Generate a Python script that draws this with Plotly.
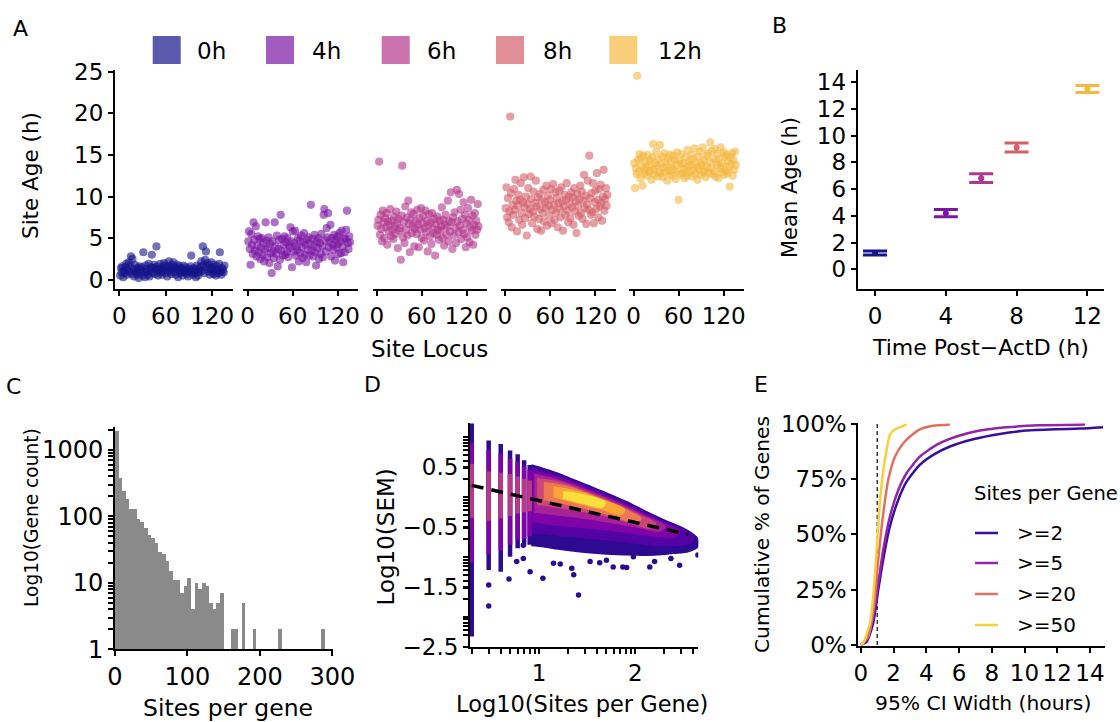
import plotly.graph_objects as go

W, H = 1120, 722
def px(x): return x / W
def py(y): return 1 - y / H

FONT = "DejaVu Sans"
TICKSIZE = 23

# ---------------- Panel A: site age by locus ----------------
timepoints = ["0h", "4h", "6h", "8h", "12h"]
time_colors = ["#14148a", "#7b16a3", "#b3378d", "#d4606a", "#f5b942"]
loci = list(range(1, 137))

age_0h = [0.5, 1.4, 0.9, 1.6, 0.3, 1.1, 0.8, 1.5, 1.9, 0.6, 1.2, 2.1, 1.0, 1.7, 2.8, 0.7, 2.5,
          1.3, 0.4, 1.8, 0.9, 1.1, 0.6, 1.4, 0.2, 1.6, 0.8, 1.2, 1.5, 0.5, 3.3, 1.0, 0.3, 1.7,
          0.9, 1.3, 0.6, 1.9, 0.4, 1.1, 1.5, 3.0, 0.8, 1.4, 1.8, 0.7, 1.2, 4.0, 1.6, 0.5, 1.0,
          1.3, 1.9, 0.9, 0.6, 1.5, 1.1, 2.0, 1.7, 0.8, 1.3, 0.4, 1.6, 2.2, 1.0, 1.4, 0.7, 1.8,
          1.2, 2.1, 0.9, 1.5, 0.6, 1.3, 1.8, 0.3, 1.1, 1.6, 0.8, 1.4, 1.0, 0.5, 1.7, 1.2, 0.9,
          1.5, 0.7, 1.1, 0.4, 1.3, 0.9, 1.6, 2.9, 1.0, 0.6, 1.4, 0.8, 1.2, 0.3, 1.7, 1.0, 0.5,
          1.3, 0.9, 1.6, 2.2, 1.1, 4.0, 1.8, 0.8, 2.4, 3.4, 1.5, 2.0, 1.0, 1.7, 0.6, 1.3, 2.1,
          0.9, 1.4, 0.7, 1.8, 1.1, 0.5, 1.6, 1.2, 0.8, 1.9, 3.3, 1.0, 0.6, 1.4, 1.2, 0.9, 1.7]
age_4h = [4.6, 5.8, 3.7, 1.8, 5.5, 4.2, 3.1, 6.9, 4.8, 3.5, 6.4, 2.8, 4.1, 5.2, 3.3, 4.9, 2.5,
          3.9, 5.0, 3.0, 4.4, 2.2, 3.6, 6.9, 4.7, 2.7, 3.8, 5.1, 2.0, 4.3, 3.2, 0.8, 4.6, 3.4,
          2.6, 6.9, 4.0, 3.1, 5.3, 1.6, 3.7, 4.8, 2.4, 7.8, 3.5, 4.9, 2.9, 4.2, 5.2, 3.0, 4.5,
          3.3, 5.0, 2.7, 4.1, 3.8, 6.3, 4.6, 1.5, 5.8, 3.4, 4.4, 5.9, 2.9, 4.0, 3.6, 5.0, 2.2,
          4.7, 3.2, 5.3, 3.9, 2.6, 4.5, 5.6, 3.0, 4.2, 2.1, 4.8, 3.6, 5.1, 2.9, 4.3, 9.0, 3.5,
          4.9, 2.8, 4.1, 5.4, 3.3, 1.7, 4.6, 3.8, 5.0, 2.5, 4.4, 3.1, 5.5, 4.0, 2.7, 7.8, 8.5,
          4.7, 3.4, 6.2, 5.1, 8.0, 3.9, 4.5, 6.6, 2.8, 5.0, 4.2, 3.6, 5.4, 2.3, 4.8, 3.9, 5.2,
          4.3, 3.1, 5.6, 4.6, 3.2, 5.9, 4.0, 2.1, 5.0, 3.3, 4.9, 6.0, 8.3, 4.4, 3.7, 5.2, 4.5]
age_6h = [6.5, 7.2, 14.2, 5.4, 7.8, 6.1, 4.6, 8.3, 6.9, 5.0, 7.4, 6.3, 8.0, 4.2, 7.0, 5.8, 6.6,
          8.5, 5.2, 7.1, 6.0, 4.9, 7.6, 6.4, 5.5, 8.2, 6.8, 3.8, 7.3, 5.9, 6.2, 2.4, 7.7, 13.7,
          5.1, 6.9, 4.4, 8.8, 6.0, 7.5, 5.3, 9.5, 6.7, 3.3, 7.2, 8.1, 5.6, 6.4, 7.9, 4.0, 6.1,
          7.0, 5.5, 8.4, 6.6, 3.9, 7.4, 6.0, 8.6, 5.0, 6.8, 7.7, 4.7, 6.2, 8.3, 5.7, 7.1, 3.4,
          6.5, 7.9, 5.2, 6.9, 4.3, 8.0, 6.1, 5.6, 7.3, 2.9, 6.7, 5.4, 7.6, 6.0, 4.8, 7.1, 5.9,
          6.4, 8.7, 5.0, 7.2, 4.1, 6.6, 7.8, 5.4, 6.3, 9.5, 4.6, 7.0, 5.8, 10.5, 6.9, 3.7, 7.5,
          5.3, 8.1, 6.2, 4.4, 10.8, 7.0, 5.7, 10.3, 6.5, 8.4, 4.9, 7.3, 6.0, 9.3, 5.5, 7.8, 3.9,
          6.8, 5.1, 8.6, 7.2, 4.5, 6.3, 9.6, 5.9, 7.7, 4.2, 6.6, 8.0, 5.4, 7.1, 6.0, 9.1, 6.4]
age_8h = [8.6, 11.1, 7.5, 9.8, 6.9, 8.2, 19.6, 10.4, 6.3, 9.0, 7.8, 10.9, 8.4, 12.0, 9.5, 5.8, 8.9,
          10.2, 7.2, 9.6, 11.6, 8.0, 6.6, 9.3, 12.3, 8.7, 7.4, 10.0, 5.3, 9.1, 11.0, 7.9, 8.5, 12.4,
          9.7, 6.8, 8.2, 10.6, 7.6, 9.2, 11.9, 8.8, 6.1, 9.9, 7.3, 10.3, 8.5, 5.9, 9.5, 8.0, 10.8,
          7.0, 9.3, 8.6, 11.3, 6.5, 10.1, 8.9, 7.7, 9.6, 10.9, 6.8, 8.4, 11.5, 9.0, 7.2, 10.5, 8.1,
          9.8, 6.3, 9.2, 10.7, 8.5, 7.5, 11.1, 9.4, 5.9, 8.8, 10.2, 7.8, 9.6, 11.6, 8.3, 6.9, 10.0,
          9.1, 7.4, 10.5, 8.7, 9.9, 6.6, 11.0, 8.2, 9.4, 5.6, 10.3, 8.9, 7.7, 9.7, 11.3, 8.0, 10.6,
          7.3, 9.5, 12.6, 8.6, 10.1, 6.7, 9.0, 11.9, 8.4, 14.9, 9.8, 7.8, 10.4, 8.1, 11.6, 6.8, 9.3,
          10.7, 8.5, 12.8, 9.6, 7.5, 10.9, 8.8, 11.4, 9.2, 7.1, 10.0, 13.2, 8.3, 9.7, 11.0, 8.9, 10.2]
age_12h = [14.0, 11.0, 13.4, 12.7, 24.5, 14.4, 13.0, 15.1, 12.2, 14.6, 13.6, 11.3, 14.9, 13.2, 12.8, 14.1, 13.5,
           12.5, 15.0, 13.8, 12.9, 14.3, 13.1, 12.0, 14.7, 16.3, 13.3, 12.6, 14.0, 15.4, 13.7, 12.4, 14.5, 13.0,
           16.2, 12.8, 13.9, 14.8, 12.3, 13.5, 15.2, 12.9, 14.2, 13.6, 11.9, 14.6, 13.1, 15.0, 12.7, 14.1, 13.4,
           12.5, 14.9, 13.2, 14.4, 12.1, 13.8, 15.3, 13.0, 9.6, 14.3, 12.6, 13.9, 15.1, 12.8, 14.0, 13.3, 12.2,
           14.7, 13.1, 12.5, 15.6, 13.6, 14.2, 12.9, 13.8, 15.0, 12.4, 14.5, 13.2, 15.8, 12.7, 14.1, 13.5, 12.0,
           14.8, 13.3, 15.4, 12.6, 14.0, 13.7, 15.9, 12.9, 14.4, 13.1, 12.3, 14.9, 13.6, 15.2, 12.8, 14.2, 16.5,
           13.4, 15.5, 12.7, 14.6, 13.0, 15.7, 12.4, 14.1, 13.8, 15.1, 12.2, 14.5, 13.3, 15.9, 12.9, 14.0, 13.6,
           15.3, 12.6, 14.8, 13.1, 15.0, 12.8, 14.3, 13.5, 11.2, 14.7, 13.9, 15.2, 12.5, 14.4, 13.2, 15.4, 13.8]
ages = [age_0h, age_4h, age_6h, age_8h, age_12h]

# ---------------- Panel B: mean age ----------------
b_time = [0, 4, 6, 8, 12]
b_mean = [1.22, 4.19, 6.81, 9.10, 13.48]
b_err = [0.15, 0.27, 0.33, 0.34, 0.27]

# ---------------- Panel C: histogram of sites per gene ----------------
c_sites = [2.5, 7.5, 12.5, 17.5, 22.5, 27.5, 32.5, 37.5, 42.5, 47.5,
           52.5, 57.5, 62.5, 67.5, 72.5, 77.5, 82.5, 87.5, 92.5, 97.5,
           102.5, 107.5, 112.5, 117.5, 122.5, 127.5, 132.5, 137.5, 142.5, 147.5,
           162.5, 167.5, 177.5, 192.5, 227.5, 287.5]
c_count = [1950, 376, 243, 182, 130, 130, 91, 81, 67, 53,
           47, 40, 29, 27, 21, 15, 11, 11, 7, 9,
           12, 4, 10, 8, 10, 9, 5, 4, 5, 7,
           2, 2, 5, 2, 2, 2]

# ---------------- Panel D: SEM vs sites per gene (density layers) ----------------
d_level_colors = ["#2d0a91", "#5302a3", "#7e03a8", "#a72197", "#cc4778", "#ed7953", "#fca636", "#f7e03c"]
d_level_x = [
    [0.92, 1.0, 1.1, 1.3, 1.5, 1.7, 1.9, 2.1, 2.3, 2.5, 2.6, 2.65, 2.65, 2.55, 2.4, 2.2, 2.0, 1.8, 1.6, 1.4, 1.2, 1.05, 0.92],
    [0.92, 1.1, 1.3, 1.5, 1.7, 1.9, 2.1, 2.3, 2.5, 2.6, 2.55, 2.4, 2.2, 2.0, 1.8, 1.6, 1.4, 1.2, 1.05, 0.92],
    [0.93, 1.1, 1.3, 1.5, 1.7, 1.9, 2.1, 2.3, 2.45, 2.4, 2.2, 2.0, 1.8, 1.6, 1.4, 1.2, 1.05, 0.93],
    [0.95, 1.1, 1.3, 1.5, 1.7, 1.9, 2.1, 2.3, 2.25, 2.05, 1.85, 1.65, 1.45, 1.25, 1.1, 0.95],
    [0.98, 1.15, 1.3, 1.5, 1.7, 1.9, 2.05, 2.2, 2.15, 1.95, 1.75, 1.55, 1.35, 1.15, 0.98],
    [1.05, 1.2, 1.35, 1.5, 1.7, 1.9, 2.05, 2.0, 1.8, 1.6, 1.4, 1.2, 1.05],
    [1.15, 1.3, 1.45, 1.6, 1.75, 1.88, 1.85, 1.65, 1.45, 1.3, 1.15],
    [1.25, 1.4, 1.55, 1.68, 1.65, 1.5, 1.35, 1.25],
]
d_level_y = [
    [0.52, 0.48, 0.43, 0.31, 0.18, 0.05, -0.09, -0.25, -0.40, -0.54, -0.64, -0.72, -0.82, -0.90, -0.93, -0.96, -0.96, -0.95, -0.93, -0.90, -0.86, -0.82, -0.80],
    [0.47, 0.39, 0.28, 0.15, 0.02, -0.12, -0.28, -0.43, -0.57, -0.67, -0.78, -0.80, -0.80, -0.76, -0.72, -0.69, -0.66, -0.63, -0.60, -0.58],
    [0.42, 0.35, 0.25, 0.12, -0.01, -0.15, -0.31, -0.46, -0.57, -0.66, -0.64, -0.60, -0.56, -0.52, -0.49, -0.46, -0.43, -0.40],
    [0.36, 0.31, 0.21, 0.09, -0.04, -0.18, -0.34, -0.49, -0.56, -0.50, -0.44, -0.39, -0.34, -0.30, -0.27, -0.24],
    [0.29, 0.25, 0.18, 0.06, -0.07, -0.21, -0.33, -0.45, -0.51, -0.42, -0.33, -0.26, -0.20, -0.15, -0.11],
    [0.22, 0.19, 0.13, 0.04, -0.09, -0.23, -0.36, -0.42, -0.32, -0.23, -0.15, -0.08, -0.03],
    [0.15, 0.11, 0.05, -0.03, -0.12, -0.22, -0.29, -0.19, -0.11, -0.05, 0.02],
    [0.07, 0.04, -0.02, -0.10, -0.16, -0.11, -0.05, -0.01],
]
# discrete columns for genes with few sites (log10 of 2..8 sites)
d_col_x = [0.301, 0.477, 0.602, 0.699, 0.778, 0.845, 0.903]
d_col_min = [-2.33, -1.22, -1.25, -1.00, -0.86, -0.80, -0.80]
d_col_max = [1.22, 0.94, 0.88, 0.77, 0.71, 0.61, 0.53]
d_col_purple_lo = [-1.10, -0.95, -0.90, -0.80, -0.72, -0.70, -0.66]
d_col_purple_hi = [0.90, 0.78, 0.72, 0.64, 0.58, 0.50, 0.45]
d_col_mag_lo = [-0.35, -0.40, -0.36, -0.32, -0.28, -0.26, -0.24]
d_col_mag_hi = [0.55, 0.42, 0.40, 0.38, 0.34, 0.30, 0.27]
d_out_x = [0.477, 0.477, 0.688, 0.837, 0.768, 0.837, 0.907, 1.04, 1.15, 1.22, 1.34, 1.36, 1.41,
           1.53, 1.63, 1.70, 1.77, 1.87, 1.91, 1.98, 2.06, 2.15, 2.20, 2.37, 2.46, 2.65, 2.60]
d_out_y = [-1.47, -1.82, -1.37, -0.81, -1.08, -1.03, -1.25, -1.36, -1.11, -1.12, -1.19, -1.30, -1.64,
           -1.08, -1.10, -1.06, -1.17, -1.17, -1.18, -1.00, -0.94, -1.17, -1.08, -1.03, -1.14, -0.97, -0.83]
d_fit_x = [0.301, 2.55]
d_fit_y = [0.19, -0.63]
d_xtickvals = [0.301, 0.477, 0.602, 0.699, 0.778, 0.845, 0.903, 0.954, 1.0,
               1.301, 1.477, 1.602, 1.699, 1.778, 1.845, 1.903, 1.954, 2.0,
               2.301, 2.477, 2.602]
d_xticktext = ["", "", "", "", "", "", "", "", "1",
               "", "", "", "", "", "", "", "", "2",
               "", "", ""]
d_ytickvals = [-2.5, -2.301, -2.222, -2.155, -2.097, -2.046, -2.0,
               -1.699, -1.523, -1.5, -1.398, -1.301, -1.222, -1.155, -1.097, -1.046, -1.0,
               -0.699, -0.523, -0.5, -0.398, -0.301, -0.222, -0.155, -0.097, -0.046, 0.0,
               0.301, 0.477, 0.5, 0.602, 0.699, 0.778, 0.845, 0.903, 0.954, 1.0]
d_yticktext = ["\u22122.5", "", "", "", "", "", "",
               "", "", "\u22121.5", "", "", "", "", "", "", "",
               "", "", "\u22120.5", "", "", "", "", "", "", "",
               "", "", "0.5", "", "", "", "", "", "", ""]

# ---------------- Panel E: cumulative CI width ----------------
e_labels = [">=2", ">=5", ">=20", ">=50"]
e_colors = ["#3a0f9f", "#9225a8", "#e0705f", "#f8cf3c"]
e_x = [
    [0.0, 0.35, 0.75, 1.06, 1.36, 1.77, 2.28, 2.79, 3.6, 4.42, 5.44, 6.86, 8.49, 10.1, 11.95, 13.4, 14.8],
    [0.0, 0.35, 0.75, 1.06, 1.36, 1.77, 2.28, 2.79, 3.6, 4.62, 5.84, 7.27, 8.9, 10.9, 13.7],
    [0.0, 0.45, 0.79, 1.06, 1.32, 1.67, 2.08, 2.59, 3.0, 3.6, 4.42, 5.44],
    [0.0, 0.14, 0.55, 0.75, 0.92, 1.12, 1.32, 1.53, 1.77, 2.02, 2.38, 2.79],
]
e_y = [
    [0.0, 1.5, 9.8, 24.9, 38.5, 53.6, 65.6, 73.9, 81.5, 86.0, 89.8, 93.1, 95.5, 97.0, 97.6, 97.9, 98.5],
    [0.0, 2.3, 12.8, 27.9, 43.0, 58.0, 70.0, 77.7, 85.2, 90.5, 94.3, 97.0, 98.5, 99.4, 99.8],
    [0.0, 3.8, 17.3, 38.5, 56.6, 74.7, 85.2, 91.3, 94.3, 97.6, 99.2, 99.8],
    [0.0, 0.75, 9.8, 21.9, 38.5, 61.0, 76.0, 86.7, 95.0, 97.3, 98.5, 99.8],
]
e_ref_x = [1.0, 1.0]
e_ref_y = [0.0, 100.0]
e_ytickvals = [0, 25, 50, 75, 100]
e_yticktext = ["0%", "25%", "50%", "75%", "100%"]

# ---------------- figure ----------------
fig = go.Figure()

axis_style = dict(showline=True, linecolor="black", linewidth=2, ticks="outside",
                  ticklen=5, tickwidth=2, tickcolor="black", showgrid=False,
                  zeroline=False, tickfont=dict(family=FONT, size=TICKSIZE, color="black"),
                  fixedrange=True, automargin=False)

A_ydom = [py(289.3), py(70)]
A_xdoms = [(115, 233), (243.3, 358.3), (372.7, 486.7), (500.7, 615.7), (629.3, 744)]

for i in range(5):
    xa = "x" if i == 0 else f"x{i+1}"
    ya = "y" if i == 0 else f"y{i+1}"
    fig.add_trace(go.Scatter(
        x=loci, y=ages[i], xaxis=xa, yaxis=ya, mode="markers",
        marker=dict(size=7, color=time_colors[i], opacity=0.6,
                    line=dict(width=1.2, color=time_colors[i])),
        showlegend=False, hoverinfo="skip"))
    xk = "xaxis" if i == 0 else f"xaxis{i+1}"
    yk = "yaxis" if i == 0 else f"yaxis{i+1}"
    fig.layout[xk] = dict(axis_style, domain=[px(A_xdoms[i][0]), px(A_xdoms[i][1])],
                          range=[-5.6, 147], tickvals=[0, 60, 120], anchor=ya)
    if i == 0:
        fig.layout[yk] = dict(axis_style, domain=A_ydom, range=[-1.15, 25.2],
                              tickvals=[0, 5, 10, 15, 20, 25], anchor=xa)
    else:
        fig.layout[yk] = dict(domain=A_ydom, range=[-1.15, 25.2], visible=False,
                              anchor=xa, fixedrange=True, automargin=False)

# Panel B
for i in range(5):
    fig.add_trace(go.Scatter(
        x=[b_time[i]], y=[b_mean[i]], xaxis="x6", yaxis="y6", mode="markers",
        marker=dict(size=6, color=time_colors[i]),
        error_y=dict(type="data", array=[b_err[i]], visible=True, color=time_colors[i],
                     thickness=3, width=12),
        showlegend=False, hoverinfo="skip"))
fig.layout["xaxis6"] = dict(axis_style, domain=[px(857.7), px(1104)], range=[-0.98, 12.94],
                            tickvals=[0, 4, 8, 12], anchor="y6")
fig.layout["yaxis6"] = dict(axis_style, domain=[py(289.3), py(70)], range=[-1.5, 14.9],
                            tickvals=list(range(0, 15, 2)), anchor="x6")

# Panel C
fig.add_trace(go.Bar(x=c_sites, y=c_count, width=5, xaxis="x7", yaxis="y7",
                     marker=dict(color="#8a8a8a", line=dict(width=0)),
                     showlegend=False, hoverinfo="skip"))
c_tickvals = [1, 2, 3, 4, 5, 6, 7, 8, 9, 10, 20, 30, 40, 50, 60, 70, 80, 90,
              100, 200, 300, 400, 500, 600, 700, 800, 900, 1000, 2000]
c_ticktext = ["1"] + [""] * 8 + ["10"] + [""] * 8 + ["100"] + [""] * 8 + ["1000", ""]
c_font = dict(family=FONT, size=24, color="black")
fig.layout["xaxis7"] = dict(axis_style, domain=[px(115), px(333.3)], range=[0, 301.4],
                            tickvals=[0, 100, 200, 300], anchor="y7", tickfont=c_font)
fig.layout["yaxis7"] = dict(axis_style, type="log", domain=[py(649.3), py(426.7)],
                            range=[0, 3.35], tickvals=c_tickvals, ticktext=c_ticktext,
                            anchor="x7", tickfont=c_font)

# Panel D
for j in range(len(d_level_x)):
    fig.add_trace(go.Scatter(
        x=d_level_x[j], y=d_level_y[j], xaxis="x8", yaxis="y8", mode="lines",
        fill="toself", fillcolor=d_level_colors[j],
        line=dict(color=d_level_colors[j], width=3, shape="spline", smoothing=0.8),
        showlegend=False, hoverinfo="skip"))
for k in range(len(d_col_x)):
    for lo, hi, col in [(d_col_min[k], d_col_max[k], d_level_colors[0]),
                        (d_col_purple_lo[k], d_col_purple_hi[k], d_level_colors[2]),
                        (d_col_mag_lo[k], d_col_mag_hi[k], "#b8388a")]:
        fig.add_trace(go.Scatter(
            x=[d_col_x[k], d_col_x[k]], y=[lo, hi], xaxis="x8", yaxis="y8",
            mode="lines", line=dict(color=col, width=4.5),
            showlegend=False, hoverinfo="skip"))
fig.add_trace(go.Scatter(x=d_out_x, y=d_out_y, xaxis="x8", yaxis="y8", mode="markers",
                         marker=dict(size=5.5, color=d_level_colors[0]),
                         showlegend=False, hoverinfo="skip"))
fig.add_trace(go.Scatter(x=d_fit_x, y=d_fit_y, xaxis="x8", yaxis="y8", mode="lines",
                         line=dict(color="black", width=3.5, dash="12px,8px"),
                         showlegend=False, hoverinfo="skip"))
fig.layout["xaxis8"] = dict(axis_style, domain=[px(470), px(698.3)], range=[0.283, 2.654],
                            tickvals=d_xtickvals, ticktext=d_xticktext, anchor="y8")
fig.layout["yaxis8"] = dict(axis_style, domain=[py(646.7), py(423)], range=[-2.5, 1.23],
                            tickvals=d_ytickvals, ticktext=d_yticktext, anchor="x8")

# Panel E
fig.add_trace(go.Scatter(x=e_ref_x, y=e_ref_y, xaxis="x9", yaxis="y9", mode="lines",
                         line=dict(color="#333333", width=1.5, dash="4px,3px"),
                         showlegend=False, hoverinfo="skip"))
for i in range(4):
    fig.add_trace(go.Scatter(x=e_x[i], y=e_y[i], xaxis="x9", yaxis="y9", mode="lines",
                             line=dict(color=e_colors[i], width=2.5, shape="spline", smoothing=0.6),
                             showlegend=False, hoverinfo="skip"))
fig.layout["xaxis9"] = dict(axis_style, domain=[px(858.3), px(1105)], range=[-0.16, 14.92],
                            tickvals=list(range(0, 15, 2)), anchor="y9")
fig.layout["yaxis9"] = dict(axis_style, domain=[py(646), py(423.3)], range=[-0.5, 100.3],
                            tickvals=e_ytickvals, ticktext=e_yticktext, anchor="x9")

# ---------------- annotations / legends ----------------
ann = []
def text(x, y, s, size, angle=0, xanchor="center"):
    ann.append(dict(x=px(x), y=py(y), xref="paper", yref="paper", text=s, showarrow=False,
                    textangle=angle, xanchor=xanchor, yanchor="middle",
                    font=dict(family=FONT, size=size, color="black")))

# panel letters
for s, x, y in [("A", 20.5, 29), ("B", 779, 26), ("C", 13, 386.5), ("D", 372.5, 384), ("E", 760.5, 384.5)]:
    text(x, y, s, 22)

# axis titles
text(30, 176, "Site Age (h)", 21.5, -90)
text(429.5, 349, "Site Locus", 23)
text(790, 188, "Mean Age (h)", 21, -90)
text(980, 347, "Time Post\u2212ActD (h)", 22)
text(31, 518, "Log10(Gene count)", 18.6, -90)
text(228, 708, "Sites per gene", 23.5)
text(385, 537.5, "Log10(SEM)", 23, -90)
text(582, 704, "Log10(Sites per Gene)", 22.5)
text(762, 535, "Cumulative % of Genes", 20.2, -90)
text(983, 703, "95% CI Width (hours)", 20.3)

shapes = []
# legend A
sw_left = [152.7, 266, 381.7, 496, 609.3]
tx_left = [195, 310, 425, 540.7, 656]
for i in range(5):
    shapes.append(dict(type="rect", xref="paper", yref="paper",
                       x0=px(sw_left[i]), x1=px(sw_left[i] + 28), y0=py(64), y1=py(36),
                       fillcolor=time_colors[i], opacity=0.7, line=dict(width=0)))
    text(tx_left[i], 51, timepoints[i], 23, xanchor="left")

# legend E
text(972, 493, "Sites per Gene", 19.5, xanchor="left")
leg_y = [533, 563, 594, 625]
for i in range(4):
    shapes.append(dict(type="line", xref="paper", yref="paper",
                       x0=px(975), x1=px(998), y0=py(leg_y[i]), y1=py(leg_y[i]),
                       line=dict(color=e_colors[i], width=2.5)))
    text(1015, leg_y[i], e_labels[i], 20, xanchor="left")

fig.update_layout(width=W, height=H,
                  margin=dict(l=0, r=0, t=0, b=0, pad=0, autoexpand=False),
                  paper_bgcolor="white", plot_bgcolor="white", showlegend=False,
                  annotations=ann, shapes=shapes, bargap=0,
                  font=dict(family=FONT, color="black"))

fig.write_html("out.html", config={"displayModeBar": False, "staticPlot": True},
               post_script="document.body.style.margin='0';document.body.style.overflow='hidden';")
